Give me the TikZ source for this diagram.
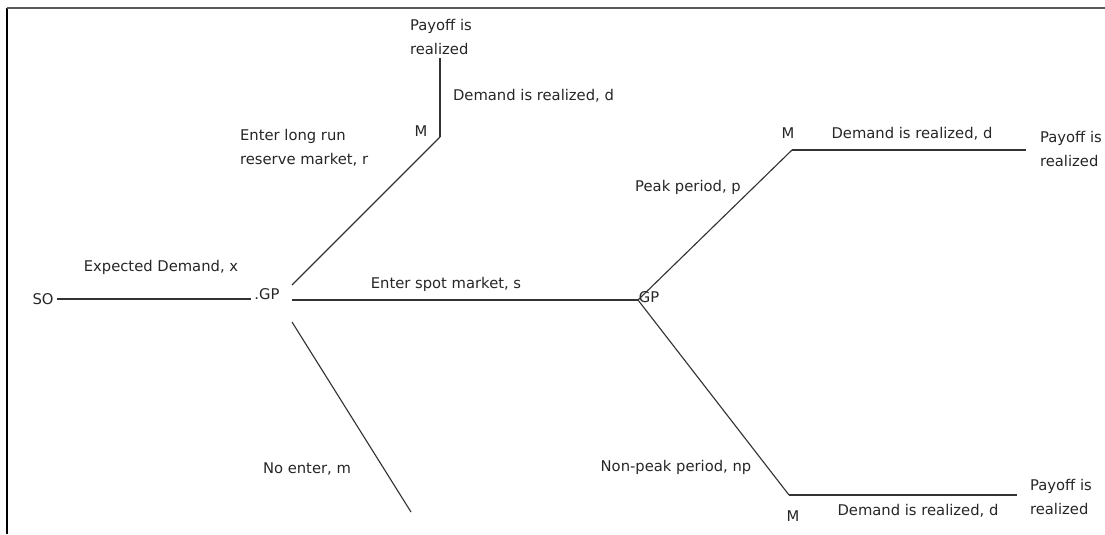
\documentclass[tikz,border=0pt]{standalone}
\usepackage{fontspec}
\setmainfont{DejaVu Sans}
\usetikzlibrary{calc}

\begin{document}
\begin{tikzpicture}[x=0.025cm,y=-0.025cm]
      \tikzstyle{every node} = [font=\fontsize{10.5}{17}\selectfont, inner sep=2pt, text=black!85]
      \tikzstyle{branch} = [draw, line width=0.8pt, black!80]
      \tikzstyle{payoff} = [anchor=west, align=left]
      \useasboundingbox (0,0) rectangle (1105,534);
      % Frame
      \draw[line width=1.5pt, black] (7,534) -- (7,8);
      \draw[line width=1.2pt, black!65] (7,8) -- (1105,8);
      % Decision points
      \node (SO) at (43,299) {SO};
      \coordinate (GP1) at (292,300);
      \node (GP1label) at (267,294) {.GP};
      \coordinate (GP2) at (638,300);
      \node (GP2label) at (649,297) {GP};
      \coordinate (M1) at (440,137);
      \node (M1label) at (421,131) {M};
      \coordinate (M2) at (792,150);
      \node (M2label) at (788,133) {M};
      \coordinate (M3) at (789,495);
      \node (M3label) at (793,516) {M};
      \coordinate (noEnter) at (411,512);
      % Payoffs
      \node[payoff] (payoffR) at (407,37) {Payoff is\\realized};
      \node[payoff] (payoffP) at (1037,149) {Payoff is\\realized};
      \node[payoff] (payoffNP) at (1027,497) {Payoff is\\realized};
      % Connections
      \draw[branch]
      (SO.east) -- (SO.east -| GP1label.west);
      \draw[branch]
      ($(GP1)+(0,-15)$) -- (M1);
      \draw[branch]
      (M1) -- (M1 |- payoffR.south);
      \draw[branch]
      (GP1) -- (GP2);
      \draw[branch]
      ($(GP1)+(0,22)$) -- (noEnter);
      \draw[branch]
      (GP2) -- (M2);
      \draw[branch, shorten >=8pt]
      (M2) -- (M2 -| payoffP.west);
      \draw[branch]
      (GP2) -- (M3);
      \draw[branch, shorten >=7pt]
      (M3) -- (M3 -| payoffNP.west);
      % Labels
      \node (expDemand) at (161,267) {Expected Demand, x};
      \node[anchor=west, align=left] (longRun) at (237,148) {Enter long run\\reserve market, r};
      \node[anchor=west] (demandR) at (450,96) {Demand is realized, d};
      \node (spot) at (446,284) {Enter spot market, s};
      \node (noEnterLabel) at (307,469) {No enter, m};
      \node (peak) at (688,187) {Peak period, p};
      \node (demandP) at (912,134) {Demand is realized, d};
      \node (nonPeak) at (676,467) {Non-peak period, np};
      \node (demandNP) at (918,511) {Demand is realized, d};
\end{tikzpicture}
\end{document}
